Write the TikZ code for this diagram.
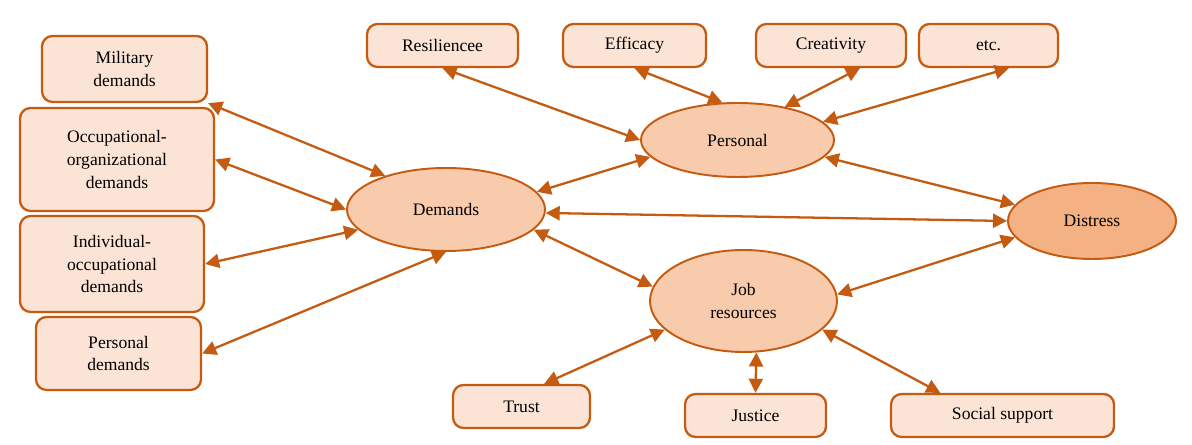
\documentclass[tikz,border=0pt]{standalone}
\usepackage{fontspec}
\setmainfont{Liberation Serif}
\usetikzlibrary{arrows.meta,shapes.geometric}
\definecolor{rim}{HTML}{C55A11}
\definecolor{boxfill}{HTML}{FBE4D5}
\definecolor{ovalfill}{HTML}{F8CBAD}
\definecolor{hotfill}{HTML}{F4B183}
\begin{document}
\begin{tikzpicture}[
    box/.style={draw=rim, fill=boxfill, line width=1.3pt, rounded corners=6pt,
        align=center, font=\fontsize{10}{13}\selectfont, minimum height=0.86cm, inner sep=1pt},
    oval/.style={ellipse, draw=rim, fill=ovalfill, line width=1.1pt,
        align=center, font=\fontsize{10}{13}\selectfont, inner sep=1pt},
    link/.style={draw=rim, line width=1.3pt,
        {Triangle[length=8pt,width=8pt]}-{Triangle[length=8pt,width=8pt]}}]
    \useasboundingbox (0,0) rectangle (23.84,8.9);
    % left hand demands
    \node[box, minimum width=3.3cm, minimum height=1.32cm] (mil) at (2.49,7.52) {Military\\demands};
    \node[box, minimum width=3.88cm, minimum height=2.06cm] (occ) at (2.34,5.71) {Occupational-\\organizational\\demands};
    \node[box, minimum width=3.68cm, minimum height=1.92cm] (ind) at (2.24,3.62) {Individual-\\occupational\\demands};
    \node[box, minimum width=3.3cm, minimum height=1.46cm] (pd) at (2.37,1.83) {Personal\\demands};
    % personal resources
    \node[box, minimum width=3.02cm] (res) at (8.85,7.99) {Resiliencee};
    \node[box, minimum width=2.86cm] (eff) at (12.69,7.99) {Efficacy};
    \node[box, minimum width=3.0cm] (cre) at (16.62,7.99) {Creativity};
    \node[box, minimum width=2.78cm] (etc) at (19.77,7.99) {etc.};
    % job resources
    \node[box, minimum width=2.74cm] (tru) at (10.43,0.77) {Trust};
    \node[box, minimum width=2.82cm] (jus) at (15.11,0.59) {Justice};
    \node[box, minimum width=4.46cm] (soc) at (20.05,0.59) {Social support};
    % main ovals
    \node[oval, minimum width=3.86cm, minimum height=1.48cm] (per) at (14.75,6.10) {Personal};
    \node[oval, minimum width=3.96cm, minimum height=1.66cm] (dem) at (8.92,4.71) {Demands};
    \node[oval, fill=hotfill, minimum width=3.36cm, minimum height=1.52cm] (dis) at (21.84,4.48) {Distress};
    \node[oval, minimum width=3.74cm, minimum height=2.04cm] (job) at (14.87,2.88) {Job\\resources};
    % links
    \draw[link] (mil.south east) -- (dem.151);
    \draw[link] (occ.east) -- (dem.west);
    \draw[link] (ind.east) -- (dem.193);
    \draw[link] (pd.east) -- (dem.south);
    \draw[link] (res.south) -- (per.west);
    \draw[link] (eff.south) -- (per.112);
    \draw[link] (cre.-38.5) -- (per.35);
    \draw[link] (etc.-48) -- (per.12);
    \draw[link] (dem.11) -- (per.191);
    \draw[link] (dem.-2) -- (dis.west);
    \draw[link] (per.-11) -- (dis.168);
    \draw[link] (dem.-13) -- (job.171);
    \draw[link] (job.4) -- (dis.192);
    \draw[link] (tru.45) -- (job.200);
    \draw[link] (jus.north) -- (job.-76);
    \draw[link] (soc.160) -- (job.-20);
\end{tikzpicture}
\end{document}
